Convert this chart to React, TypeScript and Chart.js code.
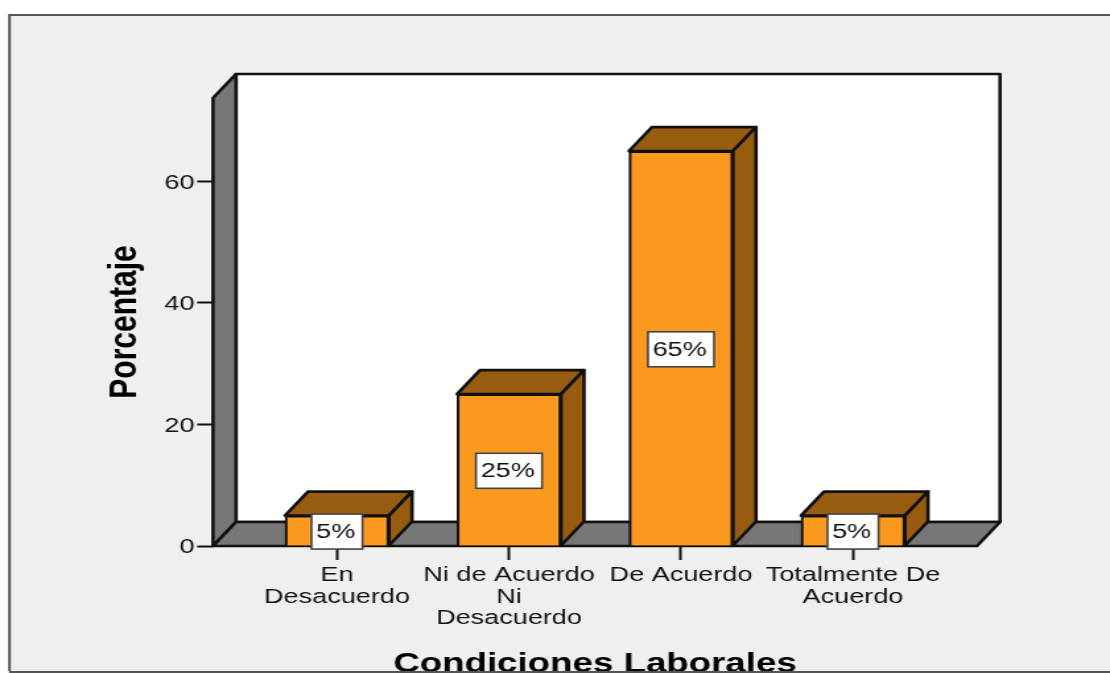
import React, { useEffect, useRef } from "react";
import { Chart, registerables } from "chart.js";

Chart.register(...registerables);

const categories = ["En\nDesacuerdo", "Ni de Acuerdo\nNi\nDesacuerdo", "De Acuerdo", "Totalmente De\nAcuerdo"];
const values = [5, 25, 65, 5];
const valueLabels = ["5%", "25%", "65%", "5%"];
const yTicks = [0, 20, 40, 60];
const yTitle = "Porcentaje";
const xTitle = "Condiciones Laborales";

const CANVAS_W = 841;
const CANVAS_H = 673;
const SX = 1110 / CANVAS_W;
const INK = "#111111";
const FONT = "'Liberation Sans', Arial, sans-serif";
const DX = 23 / SX;
const DY = 24;

const scene3d = {
  id: "scene3d",
  beforeDraw(chart: any) {
    const c = chart.ctx;
    c.save();
    c.fillStyle = "#ffffff";
    c.fillRect(0, 0, CANVAS_W, CANVAS_H);
    c.fillStyle = "#efefef";
    c.fillRect(9 / SX, 14, CANVAS_W, 657);
    c.strokeStyle = "#555555";
    c.lineWidth = 2;
    c.beginPath();
    c.moveTo(CANVAS_W, 15);
    c.lineTo(9.5 / SX, 15);
    c.lineTo(9.5 / SX, 671);
    c.stroke();
    c.restore();
  },
  beforeDatasetsDraw(chart: any) {
    const c = chart.ctx;
    const { left, right, top, bottom } = chart.chartArea;
    const poly = (pts: number[][], fill: string) => {
      c.beginPath();
      pts.forEach((p, i) => (i ? c.lineTo(p[0], p[1]) : c.moveTo(p[0], p[1])));
      c.closePath();
      c.fillStyle = fill;
      c.fill();
      c.stroke();
    };
    c.save();
    c.lineJoin = "round";
    c.strokeStyle = INK;
    c.lineWidth = 2.6;
    poly([[left + DX, top - DY], [right + DX, top - DY], [right + DX, bottom - DY], [left + DX, bottom - DY]], "#ffffff");
    poly([[left, bottom], [left + DX, bottom - DY], [left + DX, top - DY], [left, top]], "#777777");
    poly([[left, bottom], [right, bottom], [right + DX, bottom - DY], [left + DX, bottom - DY]], "#777777");
    chart.getDatasetMeta(0).data.forEach((bar: any) => {
      const l = bar.x - bar.width / 2;
      const r = bar.x + bar.width / 2;
      poly([[l, bar.y], [l + DX, bar.y - DY], [r + DX, bar.y - DY], [r, bar.y]], "#985c10");
      poly([[r, bar.y], [r + DX, bar.y - DY], [r + DX, bar.base - DY], [r, bar.base]], "#985c10");
    });
    c.restore();
  },
  afterDatasetsDraw(chart: any) {
    const c = chart.ctx;
    c.save();
    c.font = `20.5px ${FONT}`;
    c.textAlign = "center";
    c.textBaseline = "middle";
    chart.getDatasetMeta(0).data.forEach((bar: any, i: number) => {
      const text = valueLabels[i];
      const w = c.measureText(text).width + 9;
      const h = 35;
      const cy = (bar.y + bar.base) / 2 + 1;
      c.fillStyle = "#ffffff";
      c.fillRect(bar.x - w / 2, cy - h / 2, w, h);
      c.strokeStyle = "#444444";
      c.lineWidth = 1.6;
      c.strokeRect(bar.x - w / 2, cy - h / 2, w, h);
      c.fillStyle = INK;
      c.fillText(text, bar.x - 1, cy + 1);
    });
    c.restore();
  },
  afterDraw(chart: any) {
    const c = chart.ctx;
    c.save();
    c.fillStyle = "#ffffff";
    c.fillRect(0, 672, CANVAS_W, 1);
    c.fillStyle = "#555555";
    c.fillRect(9 / SX, 671, CANVAS_W, 2);
    c.restore();
  },
};

export default function App() {
  const ref = useRef<HTMLCanvasElement>(null);
  useEffect(() => {
    const chart = new Chart(ref.current as HTMLCanvasElement, {
      type: "bar",
      data: {
        datasets: [
          {
            data: values.map((v, i) => ({ x: i, y: v })),
            backgroundColor: "#fb9a1f",
            borderColor: INK,
            borderWidth: 2.2,
            barThickness: 104 / SX,
          },
        ],
      },
      options: {
        animation: false,
        responsive: false,
        devicePixelRatio: 1,
        events: [],
        layout: { padding: { left: 80, top: 98, right: CANVAS_W - 977 / SX, bottom: 0 } },
        plugins: { legend: { display: false }, tooltip: { enabled: false } },
        scales: {
          x: {
            type: "linear",
            offset: false,
            min: -0.721,
            max: 3.721,
            afterBuildTicks: (s: any) => {
              s.ticks = categories.map((_, i) => ({ value: i }));
            },
            afterFit: (s: any) => {
              s.height = CANVAS_H - 546;
            },
            border: { display: false },
            grid: { offset: false, drawOnChartArea: false, drawTicks: true, tickLength: 14, tickColor: INK, tickWidth: 2 },
            ticks: {
              autoSkip: false,
              maxRotation: 0,
              minRotation: 0,
              padding: 5,
              color: INK,
              font: { family: FONT, size: 20.5, lineHeight: 1.05 },
              callback: (v: any) => categories[v as number].split("\n"),
            },
            title: {
              display: true,
              text: xTitle,
              color: "#000000",
              padding: 0,
              font: { family: FONT, size: 27.8, weight: "bold", lineHeight: 0.65 },
            },
          },
          y: {
            min: 0,
            max: 73.74,
            afterBuildTicks: (s: any) => {
              s.ticks = yTicks.map((value) => ({ value }));
            },
            afterFit: (s: any) => {
              s.width = 213 / SX - 80;
            },
            border: { display: false },
            grid: { drawOnChartArea: false, drawTicks: true, tickLength: 12, tickColor: INK, tickWidth: 2 },
            ticks: {
              padding: 2,
              labelOffset: 1.5,
              color: INK,
              font: { family: FONT, size: 20.5 },
            },
            title: {
              display: true,
              text: yTitle,
              color: "#000000",
              padding: 0,
              font: { family: FONT, size: 30, weight: "bold", lineHeight: 1 },
            },
          },
        },
      },
      plugins: [scene3d],
    } as any);
    return () => chart.destroy();
  }, []);
  return (
    <div style={{ position: "fixed", left: 0, top: 0, width: 1110, height: 673, overflow: "hidden" }}>
      <canvas
        ref={ref}
        width={CANVAS_W}
        height={CANVAS_H}
        style={{ display: "block", transformOrigin: "0 0", transform: `scale(${SX}, 1)`, filter: "blur(0.5px)" }}
      />
    </div>
  );
}
